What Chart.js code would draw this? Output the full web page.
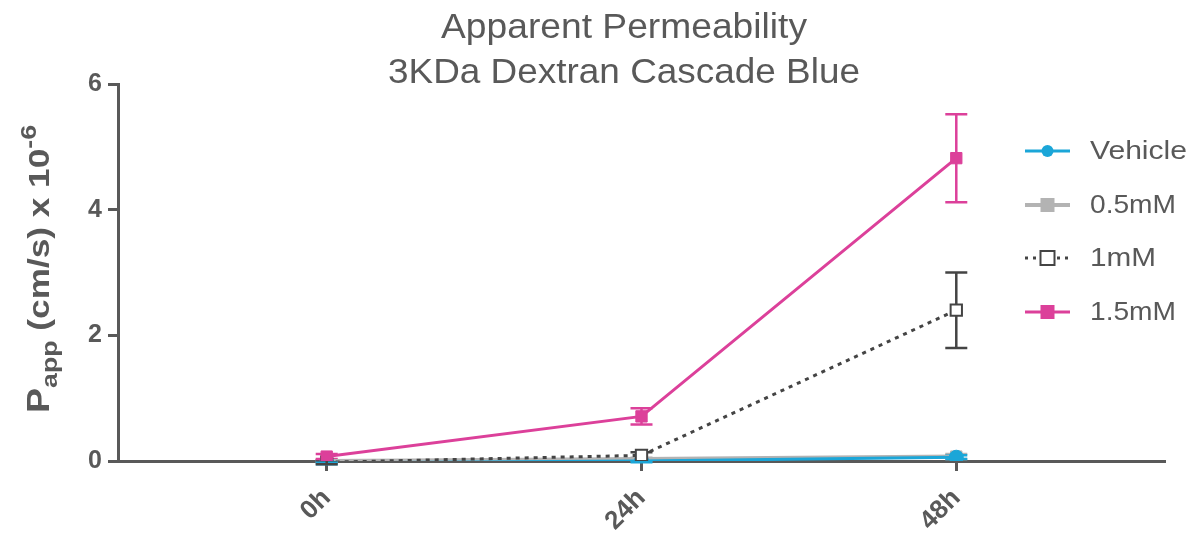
<!DOCTYPE html>
<html>
<head>
<meta charset="utf-8">
<script src="https://cdn.jsdelivr.net/npm/chart.js@4/dist/chart.umd.min.js"></script>
<style>
  html, body { margin: 0; padding: 0; background: #fff; }
  #wrap { width: 1188px; height: 541px; position: relative; }
</style>
</head>
<body>
<div id="wrap"><canvas id="c" width="1188" height="541"></canvas></div>
<script>
// Time points
const timeLabels = ['0h', '24h', '48h'];
const yTicks = [0, 2, 4, 6];

// Series means (Papp, cm/s x 10^-6)
const vehicle   = [-0.03, 0.00, 0.06];
const mM05      = [0.00, 0.03, 0.07];
const mM1       = [-0.02, 0.09, 2.40];
const mM15      = [0.07, 0.71, 4.82];

// Error bar half-widths (SEM)
const vehicleErr = [0.02, 0.02, 0.03];
const mM05Err    = [0.02, 0.02, 0.04];
const mM1Err     = [0.03, 0.05, 0.60];
const mM15Err    = [0.04, 0.13, 0.70];

const seriesNames = ['Vehicle', '0.5mM', '1mM', '1.5mM'];

const GREY = '#595959';
const FONT = '"Liberation Sans", Arial, sans-serif';

function pts(arr) { return arr.map((v, i) => ({ x: i, y: v })); }

const datasets = [
  { label: seriesNames[0], data: pts(vehicle), err: vehicleErr,
    borderColor: '#1ba6d8', backgroundColor: '#1ba6d8', pointStyle: 'circle',
    pointRadius: 7, borderWidth: 3, order: 2 },
  { label: seriesNames[1], data: pts(mM05), err: mM05Err,
    borderColor: '#b3b3b3', backgroundColor: '#b3b3b3', pointStyle: 'rect',
    pointRadius: 8, borderWidth: 4, order: 3 },
  { label: seriesNames[2], data: pts(mM1), err: mM1Err,
    borderColor: '#444444', backgroundColor: '#ffffff', pointStyle: 'rect',
    pointRadius: 8, borderWidth: 3, borderDash: [4, 5], order: 1,
    pointBorderWidth: 2 },
  { label: seriesNames[3], data: pts(mM15), err: mM15Err,
    borderColor: '#dc409a', backgroundColor: '#dc409a', pointStyle: 'rect',
    pointRadius: 8, borderWidth: 3, order: 0 }
];
datasets.forEach(d => {
  d.fill = false; d.tension = 0; d.pointHoverRadius = d.pointRadius;
  d.pointBorderColor = d.borderColor; d.pointBackgroundColor = d.backgroundColor;
  if (!d.pointBorderWidth) d.pointBorderWidth = 1;
});

// Vertical error bars with caps, drawn under the markers
const errorBars = {
  id: 'errorBars',
  beforeDatasetsDraw(chart) {
    const ctx = chart.ctx;
    const xs = chart.scales.x, ys = chart.scales.y;
    const list = chart.data.datasets.slice().sort((a, b) => b.order - a.order);
    list.forEach(d => {
      ctx.save();
      ctx.strokeStyle = d.borderColor;
      ctx.lineWidth = 2.5;
      d.data.forEach((p, j) => {
        const e = d.err[j];
        const x = xs.getPixelForValue(p.x);
        const yt = ys.getPixelForValue(p.y + e);
        const yb = ys.getPixelForValue(p.y - e);
        ctx.beginPath();
        ctx.moveTo(x, yt); ctx.lineTo(x, yb);
        ctx.moveTo(x - 11, yt); ctx.lineTo(x + 11, yt);
        ctx.moveTo(x - 11, yb); ctx.lineTo(x + 11, yb);
        ctx.stroke();
      });
      ctx.restore();
    });
  }
};

// Text drawn at a given width (the typeface in use runs a little wide)
function wideText(ctx, text, x, y, width, align) {
  const w = ctx.measureText(text).width;
  const s = width / w;
  ctx.save();
  ctx.translate(x, y);
  ctx.scale(s, 1);
  const ox = align === 'center' ? -w / 2 : 0;
  ctx.textAlign = 'left';
  ctx.fillText(text, ox, 0);
  ctx.restore();
}

// Title, y-axis title with sub/superscript, and legend
const decorations = {
  id: 'decorations',
  afterDraw(chart) {
    const ctx = chart.ctx;
    ctx.save();
    ctx.fillStyle = GREY;
    ctx.textBaseline = 'alphabetic';
    ctx.font = '35px ' + FONT;
    wideText(ctx, 'Apparent Permeability', 624, 38, 366, 'center');
    wideText(ctx, '3KDa Dextran Cascade Blue', 624, 83, 472, 'center');

    // Rotated axis title
    const parts = [
      { t: 'P', f: 'bold 31px ' + FONT, dy: 0 },
      { t: 'app', f: 'bold 22px ' + FONT, dy: 8 },
      { t: ' (cm/s) x 10', f: 'bold 29px ' + FONT, dy: 0 },
      { t: '-6', f: 'bold 22px ' + FONT, dy: -13 }
    ];
    let total = 0;
    parts.forEach(p => { ctx.font = p.f; p.w = ctx.measureText(p.t).width; total += p.w; });
    const span = 288;
    ctx.translate(49, 269);
    ctx.rotate(-Math.PI / 2);
    ctx.scale(span / total, 1);
    ctx.textAlign = 'left';
    let x = -total / 2;
    parts.forEach(p => { ctx.font = p.f; ctx.fillText(p.t, x, p.dy); x += p.w; });
    ctx.restore();

    // Legend
    ctx.save();
    const rows = [151, 205, 258, 312];
    const widths = [97, 86, 66, 86];
    const lx0 = 1025, lx1 = 1070, tx = 1090;
    chart.data.datasets.forEach((d, i) => {
      const y = rows[i];
      ctx.strokeStyle = d.borderColor;
      ctx.lineWidth = d.borderWidth;
      ctx.setLineDash(d.borderDash ? [3, 5] : []);
      ctx.beginPath(); ctx.moveTo(lx0, y); ctx.lineTo(lx1, y); ctx.stroke();
      ctx.setLineDash([]);
      const cx = (lx0 + lx1) / 2;
      ctx.fillStyle = d.backgroundColor;
      if (d.pointStyle === 'circle') {
        ctx.beginPath(); ctx.arc(cx, y, 6, 0, Math.PI * 2); ctx.fill();
      } else {
        ctx.fillRect(cx - 7, y - 7, 14, 14);
        if (d.backgroundColor === '#ffffff') {
          ctx.lineWidth = 2;
          ctx.strokeStyle = d.borderColor;
          ctx.strokeRect(cx - 7, y - 7, 14, 14);
        }
      }
      ctx.fillStyle = GREY;
      ctx.font = '25px ' + FONT;
      ctx.textBaseline = 'middle';
      wideText(ctx, d.label, tx, y + 1, widths[i], 'left');
    });
    ctx.restore();
  }
};

new Chart(document.getElementById('c'), {
  type: 'line',
  data: { datasets },
  plugins: [errorBars, decorations],
  options: {
    responsive: false,
    animation: false,
    layout: { padding: { top: 84, right: 23, left: 0, bottom: 0 } },
    plugins: { legend: { display: false }, title: { display: false }, tooltip: { enabled: false } },
    scales: {
      x: {
        type: 'linear',
        min: -0.663, max: 2.663,
        afterBuildTicks(s) { s.ticks = [0, 1, 2].map(v => ({ value: v })); },
        afterFit(s) { s.height = 80; },
        grid: { drawOnChartArea: false, tickLength: 10, tickColor: GREY, tickWidth: 3 },
        border: { color: GREY, width: 3 },
        ticks: {
          autoSkip: false, minRotation: 45, maxRotation: 45,
          color: GREY, font: { family: FONT, size: 26, weight: 'bold' },
          padding: 12,
          callback: v => timeLabels[v]
        }
      },
      y: {
        min: 0, max: 6,
        afterBuildTicks(s) { s.ticks = yTicks.map(v => ({ value: v })); },
        afterFit(s) { s.width = 118; },
        grid: { drawOnChartArea: false, tickLength: 10, tickColor: GREY, tickWidth: 3 },
        border: { color: GREY, width: 3 },
        ticks: { color: GREY, font: { family: FONT, size: 25, weight: 'bold' }, padding: 6 }
      }
    }
  }
});
</script>
</body>
</html>
